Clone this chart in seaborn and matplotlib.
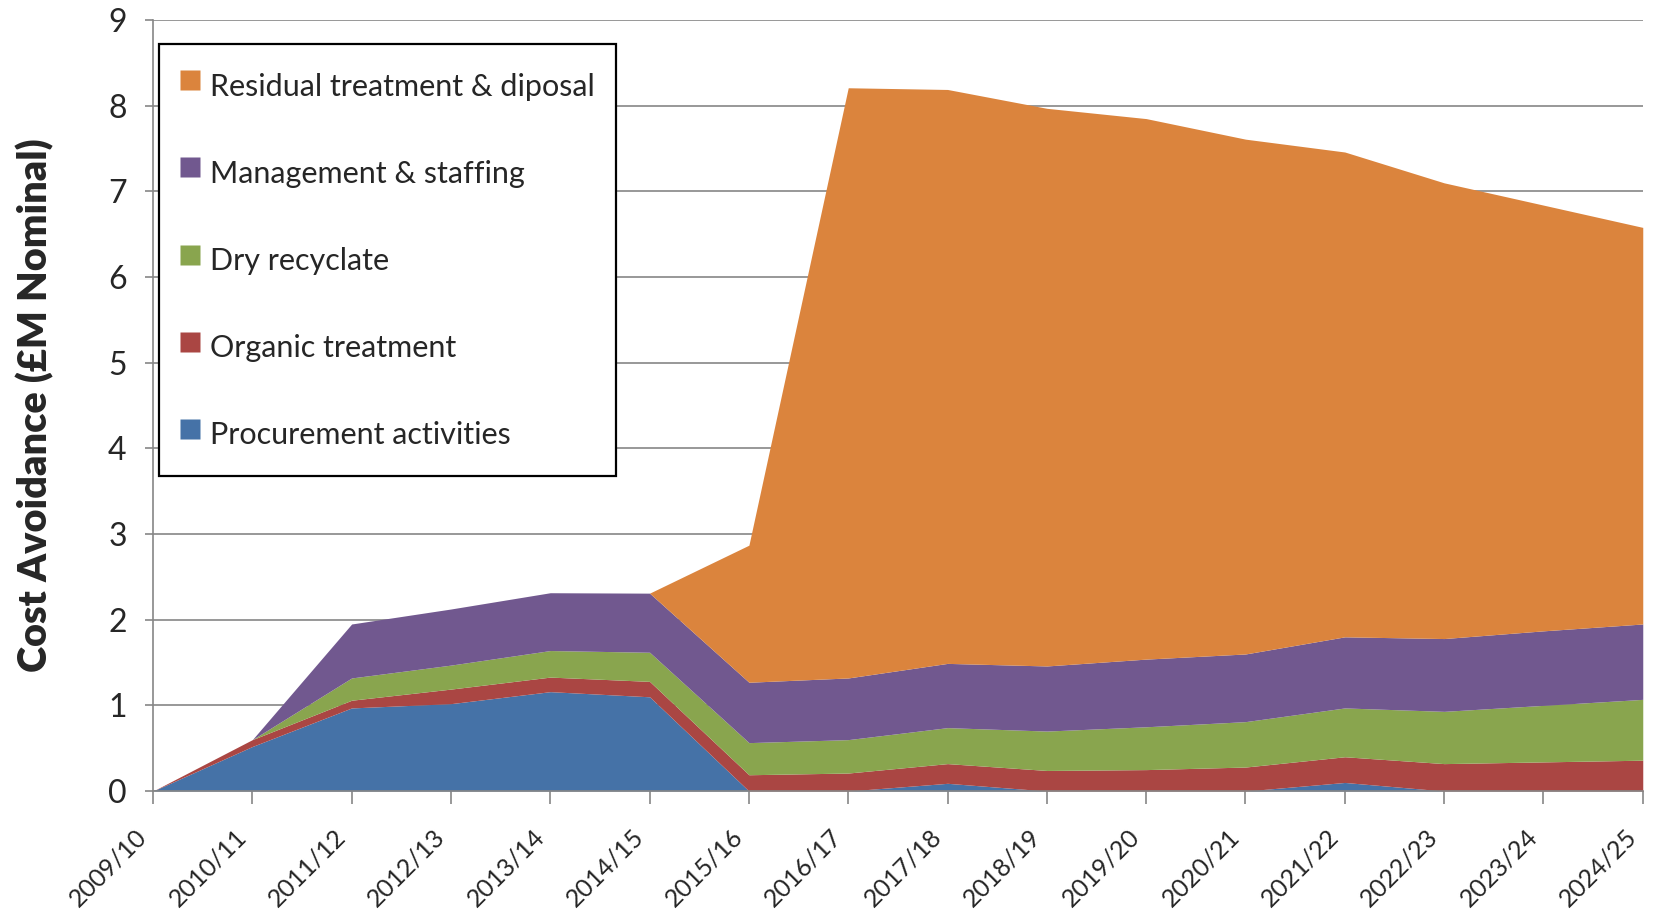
import numpy as np
import matplotlib
matplotlib.use("Agg")
import matplotlib.pyplot as plt
import matplotlib.transforms as mtransforms
import seaborn as sns
from matplotlib.lines import Line2D

# Financial years on the x axis
years = ["2009/10", "2010/11", "2011/12", "2012/13", "2013/14", "2014/15",
         "2015/16", "2016/17", "2017/18", "2018/19", "2019/20", "2020/21",
         "2021/22", "2022/23", "2023/24", "2024/25"]

# Cost avoidance per category (£M nominal)
procurement = [0, 0.52, 0.97, 1.02, 1.16, 1.10, 0, 0, 0.09, 0, 0, 0, 0.10, 0, 0, 0]
organic = [0, 0.08, 0.09, 0.17, 0.17, 0.18, 0.19, 0.21, 0.23, 0.24, 0.25, 0.28, 0.30, 0.32, 0.34, 0.36]
dry_recyclate = [0, 0, 0.26, 0.28, 0.31, 0.34, 0.375, 0.39, 0.42, 0.46, 0.50, 0.53, 0.57, 0.61, 0.66, 0.71]
management = [0, 0, 0.63, 0.655, 0.675, 0.69, 0.705, 0.72, 0.75, 0.76, 0.79, 0.79, 0.83, 0.85, 0.87, 0.88]
residual = [0, 0, 0, 0, 0, 0, 1.60, 6.89, 6.70, 6.51, 6.31, 6.01, 5.66, 5.32, 4.97, 4.63]

labels = ["Procurement activities", "Organic treatment", "Dry recyclate",
          "Management & staffing", "Residual treatment & diposal"]
colors = ["#4572A7", "#AA4643", "#89A54E", "#71588F", "#DB843D"]

sns.set_theme(style="white")
plt.rcParams["font.family"] = ["Lato", "DejaVu Sans"]

fig = plt.figure(figsize=(16.56, 9.13), dpi=100)
ax = fig.add_axes([0.0924, 0.1336, 0.8996, 0.8444])

x = np.arange(len(years))
ax.stackplot(x, procurement, organic, dry_recyclate, management, residual,
             colors=colors, linewidth=0, zorder=2)

ax.set_xlim(0, len(years) - 1)
ax.set_ylim(0, 9)
ax.set_yticks(range(0, 10))
ax.set_xticks(x)
ax.set_xticklabels(years, rotation=45, ha="right", va="center",
                   rotation_mode="anchor", fontsize=18)
ax.tick_params(axis="y", labelsize=23, length=6, width=1.2, color="#868686",
               direction="out", pad=13, left=True)
ax.tick_params(axis="x", length=9, width=1.2, color="#868686",
               direction="out", pad=21, bottom=True)
# nudge the rotated year labels a little to the left, as in the reference
shift = mtransforms.ScaledTranslation(-10 / 100, 0, fig.dpi_scale_trans)
for lab in ax.get_xticklabels():
    lab.set_transform(lab.get_transform() + shift)

ax.grid(axis="y", color="#868686", linewidth=1.2, zorder=0)
ax.grid(axis="x", visible=False)
ax.set_axisbelow(True)

sns.despine(ax=ax, top=True, right=True)
for side in ["left", "bottom"]:
    ax.spines[side].set_color("#868686")
    ax.spines[side].set_linewidth(1.2)
    ax.spines[side].set_zorder(3)

ax.set_ylabel("Cost Avoidance (£M Nominal)", fontsize=28.5, fontweight="heavy")
ax.yaxis.set_label_coords(-0.066, 0.5)

# legend in reverse order, like the reference, square markers as keys
handles = [Line2D([], [], linestyle="none", marker="s", markersize=14.4,
                  markerfacecolor=c, markeredgecolor="none") for c in colors[::-1]]
leg = ax.legend(handles, labels[::-1], loc="upper left",
                bbox_to_anchor=(0.004, 0.969), borderaxespad=0,
                fontsize=22, frameon=True, fancybox=False, shadow=False,
                handlelength=0.65, handleheight=1.7, handletextpad=0.33,
                labelspacing=1.5, borderpad=0.69)
leg.get_frame().set_edgecolor("black")
leg.get_frame().set_linewidth(1.6)
leg.get_frame().set_alpha(1)

fig.savefig("out.png", dpi=100)
